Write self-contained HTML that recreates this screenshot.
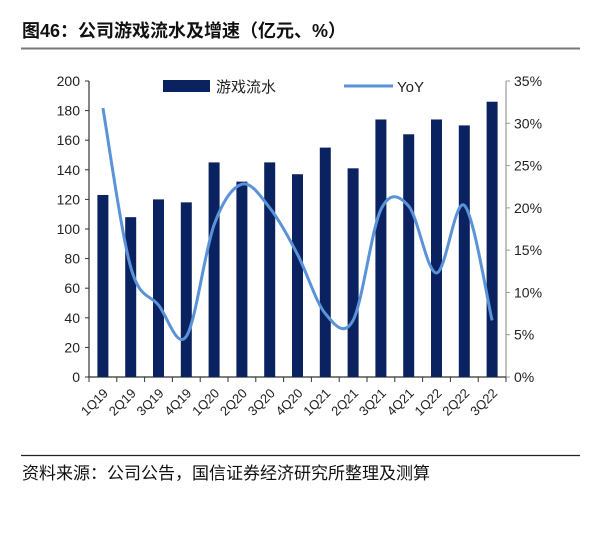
<!DOCTYPE html>
<html><head><meta charset="utf-8"><style>
body{margin:0;background:#fff;width:615px;height:529px;overflow:hidden;font-family:"Liberation Sans","Noto Sans CJK SC",sans-serif}
</style></head><body>
<svg width="615" height="529" xmlns="http://www.w3.org/2000/svg">
<text x="22" y="37" font-size="18" font-weight="bold" fill="#111" font-family="Liberation Sans,Noto Sans CJK SC,sans-serif">图46：公司游戏流水及增速（亿元、%）</text>
<line x1="21" y1="48.5" x2="580" y2="48.5" stroke="#777" stroke-width="2"/>
<line x1="21" y1="455.5" x2="580" y2="455.5" stroke="#222" stroke-width="1.2"/>
<text x="22" y="479" font-size="17" fill="#111" font-family="Liberation Sans,Noto Sans CJK SC,sans-serif">资料来源：公司公告，国信证券经济研究所整理及测算</text>
<g id="plot"></g>
</svg>
<script>
const categories=["1Q19","2Q19","3Q19","4Q19","1Q20","2Q20","3Q20","4Q20","1Q21","2Q21","3Q21","4Q21","1Q22","2Q22","3Q22"];
const revenue=[123,108,120,118,145,132,145,137,155,141,174,164,174,170,186];
const yoy=[31.8,13,8.5,4.8,18,22.8,20,14.5,7.5,6.7,19.8,20.2,12.3,20.3,6.7];
const leftTicks=[0,20,40,60,80,100,120,140,160,180,200];
const rightTicks=[0,5,10,15,20,25,30,35];
const NS="http://www.w3.org/2000/svg";
const g=document.getElementById('plot');
const X0=89,X1=506,Y0=377,Y1=81;
const band=(X1-X0)/categories.length;
const xc=i=>X0+band*(i+0.5);
const yl=v=>Y0-(v/200)*(Y0-Y1);
const yr=v=>Y0-(v/35)*(Y0-Y1);
function mk(t,a){const e=document.createElementNS(NS,t);for(const k in a)e.setAttribute(k,a[k]);g.appendChild(e);return e;}
const F="Liberation Sans,Noto Sans CJK SC,sans-serif";
let e=mk('line',{x1:X0,y1:Y1,x2:X0,y2:Y0,stroke:'#333','stroke-width':1.2});


e=mk('line',{x1:X1,y1:Y1,x2:X1,y2:Y0,stroke:'#999','stroke-width':1.2});


e=mk('line',{x1:X0,y1:Y0,x2:X1,y2:Y0,stroke:'#333','stroke-width':1.2});


leftTicks.forEach(v=>{
 mk('line',{x1:X0-4,y1:yl(v),x2:X0,y2:yl(v),stroke:'#333'});
 const t=mk('text',{x:X0-9,y:yl(v)+5,'font-size':14,'text-anchor':'end',fill:'#222','font-family':F});
 t.textContent=v;
 
 
});
rightTicks.forEach(v=>{
 mk('line',{x1:X1,y1:yr(v),x2:X1+4,y2:yr(v),stroke:'#999'});
 const t=mk('text',{x:X1+8,y:yr(v)+5,'font-size':14,fill:'#222','font-family':F});
 t.textContent=v+'%';
 
 
});
for(let i=0;i<=categories.length;i++)mk('line',{x1:X0+band*i,y1:Y0,x2:X0+band*i,y2:Y0+5,stroke:'#333'});
categories.forEach((c,i)=>{
 const b=mk('rect',{x:xc(i)-5.5,y:yl(revenue[i]),width:11,height:Y0-yl(revenue[i]),fill:'#0b2260'});
 
 
 const t=mk('text',{x:xc(i)+6,y:Y0+17,'font-size':13,'text-anchor':'end',fill:'#222','font-family':F,transform:`rotate(-45 ${xc(i)+6} ${Y0+17})`});
 t.textContent=c;
 
 
});
const pts=yoy.map((v,i)=>[xc(i),yr(v)]);
let d=`M${pts[0][0]},${pts[0][1]}`;
for(let i=0;i<pts.length-1;i++){
 const p0=pts[Math.max(i-1,0)],p1=pts[i],p2=pts[i+1],p3=pts[Math.min(i+2,pts.length-1)];
 const c1=[p1[0]+(p2[0]-p0[0])/6,p1[1]+(p2[1]-p0[1])/6],c2=[p2[0]-(p3[0]-p1[0])/6,p2[1]-(p3[1]-p1[1])/6];
 d+=` C${c1[0]},${c1[1]} ${c2[0]},${c2[1]} ${p2[0]},${p2[1]}`;
}
e=mk('path',{d:d,fill:'none',stroke:'#5b93d8','stroke-width':3});


e=mk('rect',{x:163,y:80,width:47,height:12,fill:'#0b2260'});


e=mk('text',{x:216,y:92,'font-size':15,fill:'#222','font-family':F});
e.textContent='游戏流水';


e=mk('line',{x1:344,y1:86,x2:393,y2:86,stroke:'#5b93d8','stroke-width':3});


e=mk('text',{x:397,y:92,'font-size':15,fill:'#222','font-family':F});
e.textContent='YoY';


</script>
</body></html>
